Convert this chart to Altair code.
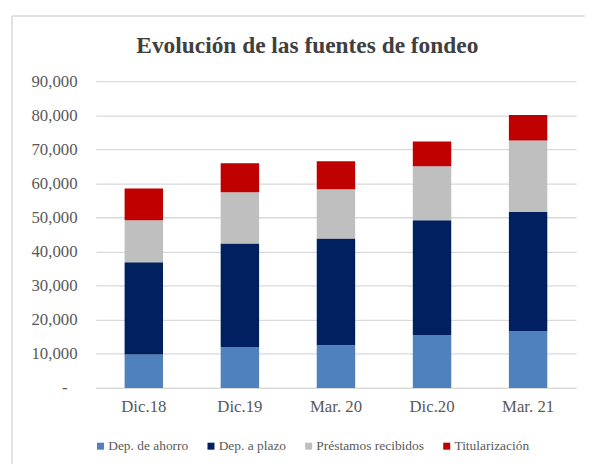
import altair as alt
import pandas as pd

periods = ["Dic.18", "Dic.19", "Mar. 20", "Dic.20", "Mar. 21"]
series = ["Dep. de ahorro", "Dep. a plazo", "Préstamos recibidos", "Titularización"]
colors = ["#4F81BD", "#002060", "#BFBFBF", "#C00000"]

dep_ahorro = [9800, 12000, 12500, 15500, 16600]
dep_plazo = [27100, 30400, 31300, 33700, 35100]
prestamos = [12300, 15000, 14500, 15800, 20900]
titularizacion = [9300, 8500, 8200, 7300, 7500]

y_ticks = [0, 10000, 20000, 30000, 40000, 50000, 60000, 70000, 80000, 90000]

rows = []
for si, (name, vals) in enumerate(zip(series, [dep_ahorro, dep_plazo, prestamos, titularizacion])):
    for p, v in zip(periods, vals):
        rows.append({"periodo": p, "serie": name, "valor": v, "orden": si})
df = pd.DataFrame(rows)

FONT = "Liberation Serif"
GRAY = "#595959"

bars = alt.Chart(df).mark_bar().encode(
    x=alt.X("periodo:N", sort=periods, title=None,
            scale=alt.Scale(paddingInner=0.6, paddingOuter=0.3),
            axis=alt.Axis(labelAngle=0, ticks=False, domainColor="#D9D9D9", domainWidth=1.3,
                          labelPadding=11, labelFontSize=17)),
    y=alt.Y("valor:Q", stack="zero", title=None,
            scale=alt.Scale(domain=[0, 90000], nice=False),
            axis=alt.Axis(values=y_ticks, domain=False, ticks=False, labelFontSize=17,
                          labelPadding={"condition": {"test": "datum.value == 0", "value": 29}, "value": 19},
                          gridColor="#D9D9D9", gridWidth=1.3,
                          labelExpr="datum.value == 0 ? '-' : format(datum.value, ',')")),
    color=alt.Color("serie:N", sort=series,
                    scale=alt.Scale(domain=series, range=colors),
                    legend=alt.Legend(title=None, orient="none", direction="horizontal",
                                      legendX=-2, legendY=363, symbolType="square", symbolSize=50,
                                      symbolStrokeWidth=0, labelFontSize=13.6,
                                      columnPadding=16, symbolOffset=0,
                                      labelOffset=1, padding=0)),
    order=alt.Order("orden:Q", sort="ascending"),
)

border_df = pd.DataFrame({"k": [0]})
border_left = alt.Chart(border_df).mark_rule(color="#D9D9D9", strokeWidth=1.5).encode(
    x=alt.value(-85), y=alt.value(-66), y2=alt.value(420))
border_top = alt.Chart(border_df).mark_rule(color="#D9D9D9", strokeWidth=1.5).encode(
    x=alt.value(-85), x2=alt.value(520), y=alt.value(-66))

chart = alt.layer(bars, border_left, border_top).properties(
    width=487, height=311,
    autosize=alt.AutoSizeParams(type="none"),
    padding={"left": 89, "top": 71, "right": 9, "bottom": 74},
    title=alt.TitleParams("Evolución de las fuentes de fondeo", font=FONT, fontSize=23.7,
                          fontWeight="bold", color="#404040", anchor="middle", dx=-29,
                          offset=0, dy=43),
).configure(font=FONT).configure_axis(
    labelFont=FONT, labelColor=GRAY
).configure_legend(
    labelFont=FONT, labelColor=GRAY
).configure_view(stroke=None)

chart.save("out.html", embed_options={"renderer": "svg", "actions": False})
